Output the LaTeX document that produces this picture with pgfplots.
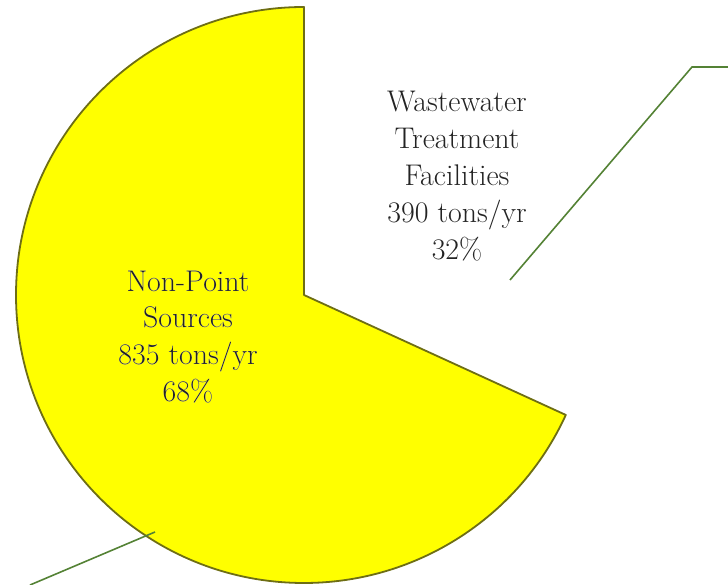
\documentclass[border=0pt]{standalone}
\usepackage{pgfplots}
\pgfplotsset{compat=1.18}
\usepackage{pgfplotstable}
\usepackage{fontspec}
\definecolor{pieyellow}{RGB}{255,255,0}
\definecolor{pieedge}{RGB}{110,110,20}
\definecolor{leader}{RGB}{84,130,53}
\definecolor{txt}{RGB}{35,35,35}

\pgfplotstableread{
source tons
NonPoint 835
Wastewater 390
}\piedata

\newcommand{\nptext}{Non-Point\\Sources\\835 tons/yr\\68\%}

\begin{document}
\begin{tikzpicture}
\pgfplotstablegetelem{0}{tons}\of\piedata \let\va\pgfplotsretval
\pgfplotstablegetelem{1}{tons}\of\piedata \let\vb\pgfplotsretval
\pgfmathsetmacro{\frac}{\va/(\va+\vb)}
\pgfmathsetmacro{\endang}{90+360*\frac}
\begin{axis}[scale only axis, width=728bp, height=585bp,
  xmin=0, xmax=728, ymin=0, ymax=585, hide axis, clip=true]
\filldraw[fill=pieyellow, draw=pieedge, line width=1.8bp, line join=round]
  (axis cs:304,290) -- (axis cs:304,578) arc[start angle=90, end angle=\endang, radius=288bp] -- cycle;
\addplot[leader, line width=1.6bp, no markers] coordinates {(510,305) (692,518) (728,518)};
\addplot[leader, line width=1.6bp, no markers] coordinates {(155,53) (30,0)};
\node[align=center, font=\rmfamily\addfontfeatures{FakeBold=0.8}\fontsize{30}{37}\selectfont, text=txt] at (axis cs:457,409)
  {Wastewater\\Treatment\\Facilities\\390 tons/yr\\32\%};
\coordinate (np) at (axis cs:188,248);
\end{axis}
\node[align=center, font=\rmfamily\addfontfeatures{FakeBold=6}\fontsize{30}{37}\selectfont, text=white] at (np) {\nptext};
\node[align=center, font=\rmfamily\addfontfeatures{FakeBold=0.8}\fontsize{30}{37}\selectfont, text=txt] at (np) {\nptext};
\pgfresetboundingbox
\useasboundingbox (current axis.south west) rectangle (current axis.north east);
\end{tikzpicture}
\end{document}
